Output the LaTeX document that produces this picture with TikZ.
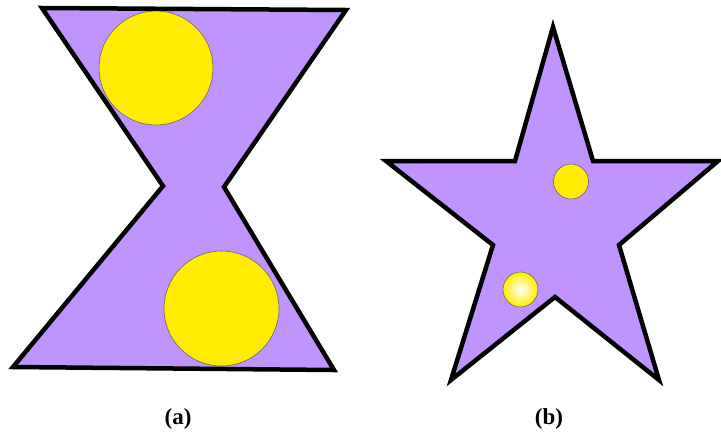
\documentclass[tikz,border=0pt]{standalone}
\usepackage{fontspec}
\setmainfont{Liberation Serif}[BoldFont={Liberation Serif Bold}]
\definecolor{lav}{RGB}{191,148,255}
\definecolor{yel}{RGB}{255,236,0}
\begin{document}
\begin{tikzpicture}[x=1pt,y=-1pt,
  shapebox/.style={fill=lav,draw=black,line width=4.5pt,line join=miter},
  ball/.style={fill=yel,draw=black!60,line width=0.6pt},
  lbl/.style={font=\bfseries\fontsize{23}{25}\selectfont,inner sep=0pt}]
\useasboundingbox (0,0) rectangle (721,432);
\fill[white] (0,0) rectangle (721,432);
% hourglass
\draw[shapebox] (42,8) -- (346,10) -- (224,187) -- (334,370) -- (13,367) -- (163,186) -- cycle;
\draw[ball] (156,68) circle (57);
\draw[ball] (221.5,308.5) circle (57.5);
% star
\draw[shapebox] (553,27) -- (593,161) -- (718,161) -- (619,245) -- (659,380) -- (555,297) -- (451,380) -- (493,245) -- (386,161) -- (515,161) -- cycle;
\draw[ball] (571,181.5) circle (17.5);
\shade[inner color=white,outer color=yel,shading=radial] (520.5,289.5) circle (17.5);
\draw[draw=black!60,line width=0.6pt] (520.5,289.5) circle (17.5);
\node[lbl] (la) at (178,419) {(a)};
\node[lbl] (lb) at (549,419) {(b)};
\end{tikzpicture}
\end{document}
